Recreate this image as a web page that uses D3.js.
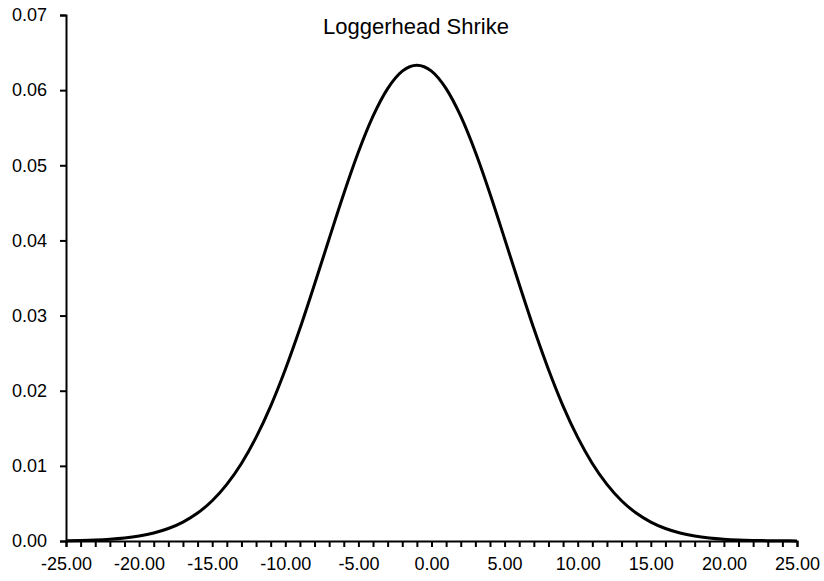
<!DOCTYPE html>
<html>
<head>
<meta charset="utf-8">
<script src="https://cdn.jsdelivr.net/npm/d3@7"></script>
<style>
  body { margin: 0; background: #fff; }
  text { font-family: "Liberation Sans", Arial, sans-serif; fill: #000; }
</style>
</head>
<body>
<script>
    var width = 824,
        height = 581;

    // values
    var title = "Loggerhead Shrike";
    var xValues = d3.range(-25, 26);
    var yValues = [
        0.000045, 0.000081, 0.000142, 0.000245, 0.000410, 0.000671, 0.001069, 0.001661,
        0.002517, 0.003721, 0.005360, 0.007535, 0.01032, 0.01379, 0.01796, 0.02283,
        0.02827, 0.03416, 0.04023, 0.04621, 0.05176, 0.05653, 0.06020, 0.06253, 0.06332,
        0.06253, 0.06020, 0.05653, 0.05176, 0.04621, 0.04023, 0.03416, 0.02827, 0.02283,
        0.01796, 0.01379, 0.01032, 0.007535, 0.005360, 0.003721, 0.002517, 0.001661,
        0.001069, 0.000671, 0.000410, 0.000245, 0.000142, 0.000081, 0.000045, 0.000024, 0.000012
    ];
    var xTicks = d3.range(-25, 26, 5);
    var xMinor = d3.range(-25, 26, 1);
    var yTicks = [0, 0.01, 0.02, 0.03, 0.04, 0.05, 0.06, 0.07];

    var points = xValues.map(function(x, i) { return [x, yValues[i]]; });

    var margin = {left: 66, right: 27, top: 15, bottom: 40};

    var x = d3.scaleLinear().domain([-25, 25]).range([margin.left, width - margin.right]);
    var y = d3.scaleLinear().domain([0, 0.07]).range([height - margin.bottom, margin.top]);

    // excel style labels, plain hyphen for the minus
    var fmt = function(d) { return d3.format(".2f")(d).replace("\u2212", "-"); };

    var svg = d3.select("body").append("svg")
        .attr("width", width)
        .attr("height", height);

    // minor ticks on x
    svg.append("g")
        .attr("transform", "translate(0," + y(0) + ")")
        .call(d3.axisBottom(x).tickValues(xMinor).tickSize(6).tickFormat(""))
        .call(function(g) {
            g.select(".domain").attr("stroke-width", 2);
            g.selectAll(".tick line").attr("stroke-width", 2);
        });

    svg.append("g")
        .attr("transform", "translate(0," + y(0) + ")")
        .call(d3.axisBottom(x).tickValues(xTicks).tickSize(0).tickPadding(16).tickFormat(fmt))
        .call(function(g) {
            g.select(".domain").remove();
            g.selectAll("text").style("font-size", "18px");
        });

    svg.append("g")
        .attr("transform", "translate(" + x(-25) + ",0)")
        .call(d3.axisLeft(y).tickValues(yTicks).tickSize(6).tickPadding(13).tickFormat(fmt))
        .call(function(g) {
            g.select(".domain").attr("stroke-width", 2);
            g.selectAll(".tick line").attr("stroke-width", 2);
            g.selectAll("text").style("font-size", "18px");
        });

    var line = d3.line()
        .x(function(d) { return x(d[0]); })
        .y(function(d) { return y(d[1]); })
        .curve(d3.curveMonotoneX);

    svg.append("path")
        .datum(points)
        .attr("fill", "none")
        .attr("stroke", "#000")
        .attr("stroke-width", 3)
        .attr("d", line);

    svg.append("text")
        .attr("x", 416)
        .attr("y", 34)
        .attr("text-anchor", "middle")
        .style("font-size", "22px")
        .text(title);
</script>
</body>
</html>
